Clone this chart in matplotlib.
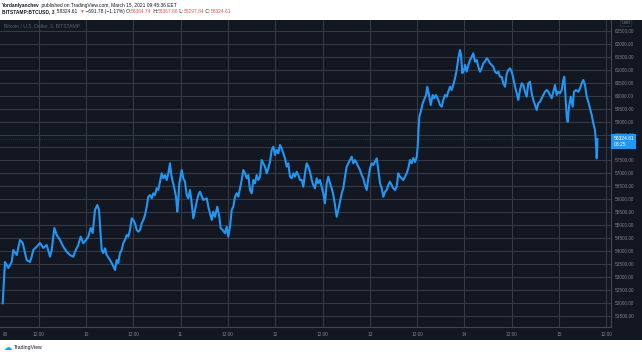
import matplotlib.pyplot as plt
import matplotlib.transforms as mtransforms
from matplotlib.patches import Rectangle

# BTC/USD (Bitstamp, 3 min), hours since 2021-03-09 00:00
hours = [
    2.86, 3.20, 3.45, 3.88, 4.29, 5.15, 5.55, 6.42, 7.25, 7.94,
    8.52, 8.95, 9.79, 10.22, 10.63, 11.49, 12.33, 13.17, 14.03, 14.87,
    15.30, 15.96, 16.56, 17.40, 18.24, 19.10, 19.94, 20.78, 21.21, 22.04,
    22.65, 23.31, 24.00, 24.58, 25.19, 25.70, 26.28, 26.86, 27.30, 27.55,
    27.98, 28.39, 28.82, 29.25, 30.09, 30.77, 31.36, 31.79, 32.19, 32.62,
    33.06, 33.46, 33.89, 34.32, 34.73, 35.16, 35.59, 36.00, 36.43, 36.86,
    37.27, 37.70, 38.13, 38.54, 38.97, 39.40, 39.80, 40.24, 40.67, 41.07,
    41.50, 41.93, 42.34, 42.77, 43.20, 43.61, 44.04, 44.47, 44.88, 45.31,
    45.56, 45.99, 46.32, 46.83, 47.16, 47.41, 47.67, 48.28, 48.68, 49.11,
    49.55, 49.95, 50.38, 50.81, 51.22, 51.65, 52.08, 52.49, 52.92, 53.76,
    54.62, 55.03, 55.89, 56.29, 56.73, 57.31, 57.82, 58.17, 58.68, 59.26,
    59.69, 60.10, 60.53, 60.96, 61.37, 61.80, 62.23, 62.64, 63.07, 63.50,
    63.91, 64.34, 64.77, 65.17, 65.61, 66.04, 66.44, 66.87, 67.30, 67.71,
    68.14, 68.57, 68.98, 69.41, 69.84, 70.25, 70.68, 71.11, 71.52, 71.95,
    72.38, 72.79, 73.22, 73.65, 74.05, 74.48, 74.92, 75.32, 75.75, 76.18,
    76.59, 77.02, 77.45, 77.86, 78.29, 78.72, 79.13, 79.56, 79.99, 80.40,
    80.83, 81.26, 81.66, 82.10, 82.53, 82.93, 83.36, 83.79, 84.20, 84.63,
    85.06, 85.47, 85.90, 86.33, 86.74, 87.17, 87.60, 88.01, 88.44, 88.87,
    89.27, 89.71, 90.14, 90.54, 90.98, 91.41, 91.81, 92.24, 92.67, 93.08,
    93.51, 93.94, 94.35, 94.78, 95.21, 95.62, 96.05, 96.48, 96.89, 97.32,
    97.75, 98.16, 98.59, 99.02, 99.42, 99.85, 100.28, 100.69, 101.12, 101.55,
    101.96, 102.39, 102.82, 103.23, 103.66, 104.09, 104.50, 104.93, 105.36, 105.77,
    106.20, 106.63, 107.03, 107.47, 107.90, 108.15, 108.35, 108.56, 108.91, 109.42,
    109.75, 110.26, 110.59, 110.94, 111.45, 111.96, 112.29, 112.79, 113.38, 113.81,
    114.24, 114.65, 115.08, 115.51, 115.91, 116.35, 116.78, 117.18, 117.61, 118.04,
    118.45, 118.88, 119.14, 119.47, 119.90, 120.15, 120.58, 120.99, 121.42, 121.85,
    122.26, 122.69, 123.12, 123.52, 123.96, 124.39, 124.79, 125.22, 125.66, 126.06,
    126.49, 126.92, 127.33, 127.76, 128.19, 128.60, 129.03, 129.46, 129.87, 130.30,
    130.73, 131.14, 131.57, 132.00, 132.40, 132.84, 133.27, 133.67, 134.10, 134.54,
    134.94, 135.37, 135.80, 136.21, 136.64, 137.07, 137.48, 137.91, 138.34, 138.75,
    139.18, 139.61, 140.02, 140.45, 140.88, 141.29, 141.72, 142.15, 142.56, 142.98,
    143.41, 143.82, 144.25, 144.68, 145.09, 145.34, 145.60, 145.95, 146.21, 146.54,
    146.97, 147.47, 147.80, 148.31, 148.90, 149.33, 149.76, 150.16, 150.59, 151.03,
    151.43, 151.86, 152.29, 152.70, 153.13, 153.38, 153.56, 153.71, 153.75,
]
price = [
    51986, 52885, 53580, 53464, 53348, 53580, 54043, 53850, 54429, 54313,
    53927, 53657, 53580, 53784, 54043, 54170, 54313, 54120, 54236, 53784,
    54043, 54892, 54622, 54429, 54170, 53977, 53850, 53784, 53977, 54236,
    54556, 54302, 54429, 54556, 54892, 54699, 55587, 55780, 55587, 55008,
    54043, 53927, 54109, 53850, 53657, 53464, 53271, 53657, 53541, 53927,
    54043, 54313, 54429, 54622, 54556, 54815, 55267, 55201, 55074, 54815,
    54749, 54815, 55074, 55201, 55394, 55714, 56100, 56166, 56039, 56232,
    56166, 56425, 56359, 56679, 57004, 56811, 56938, 56745, 57004, 57390,
    57004, 56679, 56486, 56100, 55521, 55973, 56618, 57131, 56811, 56679,
    56166, 56039, 56359, 55846, 55267, 55587, 55907, 56166, 56293, 55973,
    56039, 55714, 55201, 55521, 55328, 55714, 55328, 54881, 54815, 54688,
    54942, 54556, 54942, 55587, 55714, 56100, 56232, 56100, 56425, 56745,
    57131, 57004, 56811, 56938, 56359, 56232, 56745, 56618, 56938, 56745,
    56872, 57517, 57390, 57258, 57004, 57197, 57451, 57903, 58030, 57710,
    57903, 57776, 58096, 57969, 57776, 57583, 57258, 57390, 56872, 56811,
    57004, 56872, 57065, 56938, 56745, 56745, 56486, 57004, 57390, 57258,
    57065, 56745, 56552, 56425, 56811, 56618, 56745, 56486, 56232, 55846,
    56618, 56872, 56618, 56425, 56166, 55780, 55328, 55587, 55907, 56232,
    56425, 56872, 57258, 57390, 57517, 57644, 57390, 57517, 57390, 57258,
    57131, 56938, 56811, 56552, 56359, 56811, 57197, 57390, 57324, 57451,
    57583, 57131, 56618, 56425, 56100, 56293, 56359, 56552, 56679, 56552,
    56425, 56359, 56486, 57004, 56872, 56811, 56745, 56872, 57004, 57197,
    57517, 57390, 57594, 57440, 57633, 58030, 58675, 59188, 59381, 59706,
    59833, 60026, 60346, 60092, 59640, 60026, 59899, 60026, 59833, 59640,
    59574, 59833, 60026, 59960, 60153, 60346, 60219, 60412, 60671, 60991,
    61443, 61763, 61570, 60864, 60991, 61184, 60925, 61184, 61377, 61504,
    61636, 61311, 61377, 61118, 60925, 61057, 61250, 61311, 61443, 61377,
    61250, 61184, 61118, 60925, 60864, 60925, 60732, 60721, 60478, 60346,
    60837, 60991, 61057, 60925, 60671, 60346, 60092, 59833, 60219, 60478,
    60412, 60153, 59960, 60478, 60539, 60092, 59833, 59640, 59447, 59706,
    59767, 59899, 60026, 60153, 60219, 60153, 60026, 59899, 60153, 60412,
    60026, 60153, 60092, 60219, 60605, 60732, 60092, 59188, 58995, 59574,
    59960, 59574, 60153, 60219, 60153, 60285, 60478, 60605, 60412, 59960,
    59767, 59513, 59254, 58934, 58675, 58162, 57583, 58019, 58324.61,
]

xtick_hours = [12, 24, 36, 48, 60, 72, 84, 96, 108, 120, 132, 144, 156]
xtick_labels = ["12:00", "10", "12:00", "11", "12:00", "12", "12:00",
                "13", "12:00", "14", "12:00", "15", "12:00"]
ytick_values = list(range(51500, 63000, 500))

last_price = 58324.61
header_1 = [("Yordanlyanchev", "#131722", "bold"),
            (" published on TradingView.com, March 15, 2021 09:45:36 EET", "#131722", "normal")]
header_2 = [("BITSTAMP:BTCUSD, 3", "#131722", "bold"),
            ("  58324.61 ", "#131722", "normal"),
            ("\u25bc", "#ef5350", "normal"),
            (" \u2212691.78 (\u22121.17%) O:", "#131722", "normal"),
            ("58364.74", "#ef5350", "normal"),
            (" H:", "#131722", "normal"),
            ("58367.68", "#ef5350", "normal"),
            (" L:", "#131722", "normal"),
            ("58297.84", "#ef5350", "normal"),
            (" C:", "#131722", "normal"),
            ("58324.61", "#ef5350", "normal")]

plt.rcParams['font.family'] = ['Liberation Sans', 'DejaVu Sans']

W, H = 642, 354
BG = "#131722"
GRID = "#363a45"
TXT = "#7f828c"

fig = plt.figure(figsize=(W / 100, H / 100), dpi=100)
fig.patch.set_facecolor("white")
fig.patches.append(Rectangle((0, 14 / H), 1, 320 / H, transform=fig.transFigure,
                             facecolor=BG, edgecolor="none", zorder=-5))

ax = fig.add_axes([0, 27 / H, 611 / W, 307 / H])
ax.set_zorder(2)
ax.set_facecolor(BG)
ax.plot(hours, price, color="#2196f3", lw=1.5, solid_joinstyle="round", zorder=3)
ax.axhline(last_price, color="#2196f3", alpha=0.35, lw=0.6, ls=(0, (1, 1.5)), zorder=2)

ax.set_xlim(2.18, 157.19)
ax.set_ylim(51071, 62921)
ax.set_xticks(xtick_hours)
ax.set_xticklabels(xtick_labels)
ax.set_yticks(ytick_values)
# the 58000 label sits under the live price tag
ax.set_yticklabels(["" if v == 58000 else f"{v:.2f}" for v in ytick_values])
ax.yaxis.tick_right()
ax.tick_params(axis="y", length=0, pad=3, labelsize=3.4, labelcolor=TXT)
ax.tick_params(axis="x", length=0, pad=3.5, labelsize=3.4, labelcolor=TXT)
ax.grid(color=GRID, lw=0.8)
ax.set_axisbelow(True)
for s in ["top", "left"]:
    ax.spines[s].set_visible(False)
for s in ["right", "bottom"]:
    ax.spines[s].set_color("#434651")
    ax.spines[s].set_linewidth(0.8)

fig.text(5 / W, 1 - 334 / H, "00", fontsize=3.4, color=TXT, ha="center", va="center")

# price label on the axis
trans = mtransforms.blended_transform_factory(ax.transAxes, ax.transData)
ax.text(1.004, last_price + 120, "58324.61\n03:25", transform=trans, ha="left", va="top",
        fontsize=3.6, color="white", linespacing=1.3, clip_on=False, zorder=5,
        bbox=dict(boxstyle="square,pad=0.45", fc="#2196f3", ec="none"))

fig.text(626 / W, 1 - 23.5 / H, "USD", fontsize=3.2, color=TXT, ha="center", va="center",
         bbox=dict(boxstyle="round,pad=0.25", fc="none", ec="#363a45", lw=0.5))
fig.text(4 / W, 1 - 25.5 / H, "Bitcoin / U.S. Dollar, 3, BITSTAMP", fontsize=3.6,
         color="#5d606b", ha="left", va="center")


def seq_text(x_px, y_px, pieces, size):
    r = fig.canvas.get_renderer()
    x = x_px
    for s, c, w in pieces:
        t = fig.text(x / W, 1 - y_px / H, s, color=c, fontsize=size, fontweight=w,
                     ha="left", va="center")
        x += t.get_window_extent(renderer=r).width


seq_text(2, 5, header_1, 3.55)
seq_text(2, 11.5, header_2, 3.55)

fig.text(7.5 / W, 1 - 347.5 / H, "\u2601", fontsize=6, color="#2196f3", ha="center",
         va="center", family="DejaVu Sans")
fig.text(14 / W, 1 - 347.5 / H, "TradingView", fontsize=3.7, color="#131722",
         ha="left", va="center")

fig.savefig("out.png", dpi=100, facecolor=fig.get_facecolor())
